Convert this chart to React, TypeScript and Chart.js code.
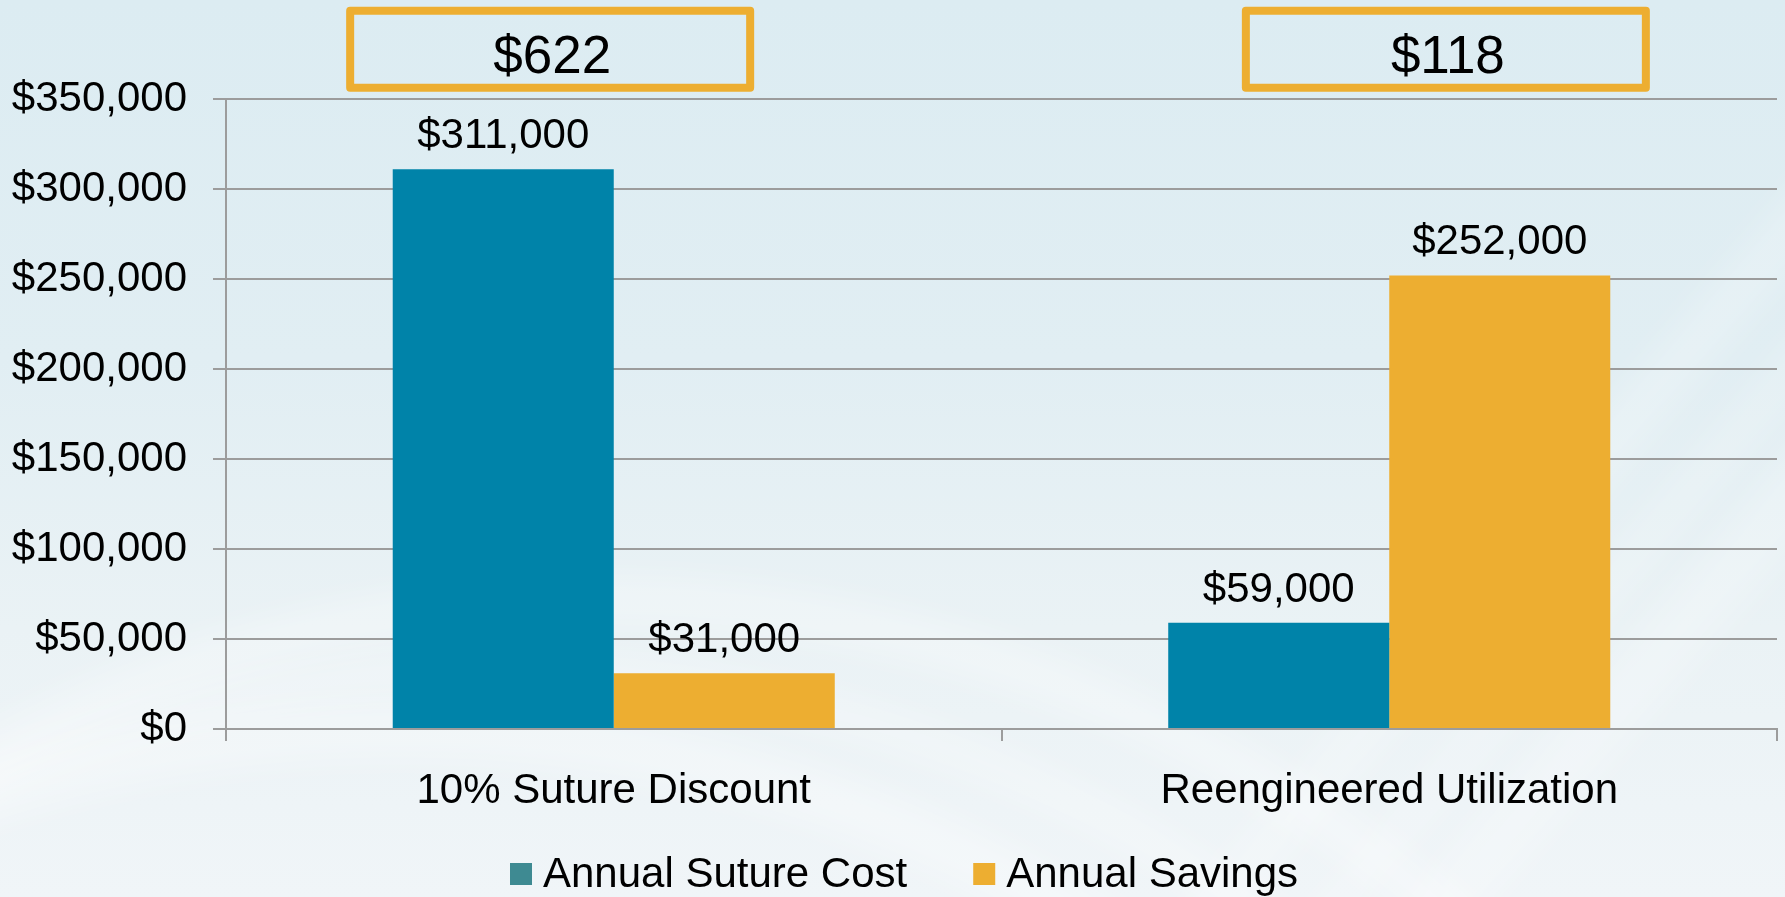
import React, { useEffect, useRef } from "react";
import { Chart, registerables } from "chart.js";

Chart.register(...registerables);

// ---- data ----
const categories = ["10% Suture Discount", "Reengineered Utilization"];
const seriesNames = ["Annual Suture Cost", "Annual Savings"];
const annualSutureCost = [311000, 59000];
const annualSavings = [31000, 252000];
const boxLabels = ["$622", "$118"];
const yMin = 0;
const yMax = 350000;
const yStep = 50000;

// ---- styles ----
const BLUE = "#0083a9";
const ORANGE = "#edae31";
const LEGEND_COLORS = ["#3e8a92", "#edae31"];
const FONT = "'Liberation Sans', Arial, Helvetica, sans-serif";
const GRID = "#9c9c9c";

const fmt = (v: number) => "$" + Math.round(v).toLocaleString("en-US");

const backgroundPlugin = {
  id: "bgSwoosh",
  beforeDraw(chart: any) {
    const { ctx, width, height } = chart;
    ctx.save();
    const g = ctx.createLinearGradient(0, 0, 0, height);
    g.addColorStop(0, "#dcecf2");
    g.addColorStop(0.4, "#e1eef3");
    g.addColorStop(0.7, "#eaf2f5");
    g.addColorStop(1, "#f0f5f8");
    ctx.fillStyle = g;
    ctx.fillRect(0, 0, width, height);
    ctx.filter = "blur(18px)";
    // soft curved swooshes bottom-left
    ctx.strokeStyle = "rgba(255,255,255,0.35)";
    const arcs = [
      [600, 1900, 1300, 40],
      [500, 1980, 1310, 30],
      [400, 2060, 1330, 50],
    ];
    for (const [cx, cy, r, w] of arcs) {
      ctx.lineWidth = w;
      ctx.beginPath();
      ctx.arc(cx, cy, r, Math.PI * 1.0, Math.PI * 1.75);
      ctx.stroke();
    }
    // diagonal light bands on the right
    ctx.fillStyle = "rgba(255,255,255,0.25)";
    const bands = [
      [1500, 60],
      [1630, 40],
      [1720, 80],
    ];
    for (const [x0, w] of bands) {
      ctx.beginPath();
      ctx.moveTo(x0 + 500, -50);
      ctx.lineTo(x0 + 500 + w, -50);
      ctx.lineTo(x0 - 350 + w, height + 50);
      ctx.lineTo(x0 - 350, height + 50);
      ctx.closePath();
      ctx.fill();
    }
    ctx.restore();
  },
};

const dataLabelPlugin = {
  id: "dataLabels",
  afterDatasetsDraw(chart: any) {
    const { ctx } = chart;
    ctx.save();
    ctx.font = `42px ${FONT}`;
    ctx.fillStyle = "#000";
    ctx.textAlign = "center";
    ctx.textBaseline = "alphabetic";
    chart.data.datasets.forEach((ds: any, i: number) => {
      const meta = chart.getDatasetMeta(i);
      meta.data.forEach((el: any, j: number) => {
        ctx.fillText(fmt(ds.data[j]), el.x, el.y - 21);
      });
    });
    ctx.restore();
  },
};

const boxPlugin = {
  id: "topBoxes",
  afterDraw(chart: any) {
    const { ctx } = chart;
    const xs = chart.scales.x;
    const catW = (chart.chartArea.right - chart.chartArea.left) / categories.length;
    const shifts = [-0.082, 0.073];
    ctx.save();
    boxLabels.forEach((label, i) => {
      const cx = xs.getPixelForValue(i) + shifts[i] * catW;
      ctx.strokeStyle = ORANGE;
      ctx.lineWidth = 8;
      ctx.lineJoin = "round";
      ctx.strokeRect(cx - 200, 10.7, 400, 77);
      ctx.font = `53px ${FONT}`;
      ctx.fillStyle = "#000";
      ctx.textAlign = "center";
      ctx.textBaseline = "alphabetic";
      ctx.fillText(label, cx + 2, 73);
    });
    ctx.restore();
  },
};

const legendPlugin = {
  id: "customLegend",
  afterDraw(chart: any) {
    const { ctx } = chart;
    ctx.save();
    ctx.font = `42px ${FONT}`;
    ctx.textBaseline = "middle";
    ctx.textAlign = "left";
    let x = 510;
    const y = 874;
    seriesNames.forEach((name, i) => {
      ctx.fillStyle = LEGEND_COLORS[i];
      ctx.fillRect(x, y - 11, 22, 22);
      ctx.fillStyle = "#000";
      ctx.fillText(name, x + 33, y + 1);
      x += 33 + ctx.measureText(name).width + 66;
    });
    ctx.restore();
  },
};

export default function App() {
  const canvasRef = useRef<HTMLCanvasElement | null>(null);

  useEffect(() => {
    document.body.style.margin = "0";
    const canvas = canvasRef.current;
    if (!canvas) return;
    const chart = new Chart(canvas, {
      type: "bar",
      data: {
        labels: categories,
        datasets: [
          {
            label: seriesNames[0],
            data: annualSutureCost,
            backgroundColor: BLUE,
            borderWidth: 0,
            categoryPercentage: 0.57,
            barPercentage: 1,
          },
          {
            label: seriesNames[1],
            data: annualSavings,
            backgroundColor: ORANGE,
            borderWidth: 0,
            categoryPercentage: 0.57,
            barPercentage: 1,
          },
        ],
      },
      options: {
        animation: false,
        responsive: false,
        devicePixelRatio: 1,
        layout: { padding: { top: 99, right: 8, bottom: 0, left: 0 } },
        plugins: {
          legend: { display: false },
          tooltip: { enabled: false },
        },
        scales: {
          x: {
            grid: {
              display: true,
              drawOnChartArea: false,
              drawTicks: true,
              tickLength: 12,
              color: GRID,
              lineWidth: 2,
            },
            border: { display: true, color: GRID, width: 2 },
            ticks: {
              color: "#000",
              font: { family: FONT, size: 42 },
              padding: 25,
              maxRotation: 0,
              autoSkip: false,
            },
            afterFit(scale: any) {
              scale.height = 168;
            },
          },
          y: {
            min: yMin,
            max: yMax,
            grid: {
              color: GRID,
              lineWidth: 2,
              tickLength: 13,
              drawTicks: true,
            },
            border: { display: true, color: GRID, width: 2 },
            ticks: {
              stepSize: yStep,
              color: "#000",
              font: { family: FONT, size: 42 },
              padding: 26,
              callback: (v: any) => fmt(Number(v)),
            },
            afterFit(scale: any) {
              scale.width = 226;
            },
          },
        },
      },
      plugins: [backgroundPlugin, dataLabelPlugin, boxPlugin, legendPlugin],
    });
    return () => chart.destroy();
  }, []);

  return (
    <div style={{ width: 1785, height: 897, position: "relative" }}>
      <canvas ref={canvasRef} width={1785} height={897} style={{ display: "block" }} />
    </div>
  );
}
